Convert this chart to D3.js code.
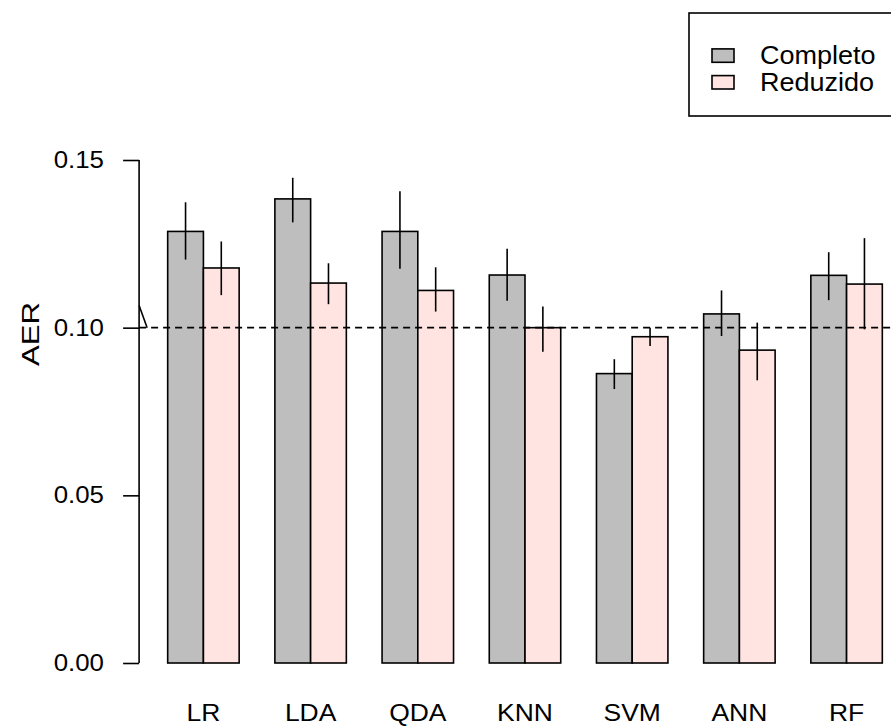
<!DOCTYPE html>
<html>
<head>
<meta charset="utf-8">
<script src="https://cdn.jsdelivr.net/npm/d3@7"></script>
<style>
  html, body { margin: 0; padding: 0; background: #fff; }
  svg { display: block; }
  text { font-family: "Liberation Sans", Arial, Helvetica, sans-serif; fill: #000; }
</style>
</head>
<body>
<div id="chart"></div>
<script>
// Classifiers compared
const categories = ["LR", "LDA", "QDA", "KNN", "SVM", "ANN", "RF"];

// Mean AER and interval limits, full feature set
const completo   = [0.1287, 0.1384, 0.1287, 0.1157, 0.0863, 0.1041, 0.1156];
const completoLo = [0.1203, 0.1314, 0.1176, 0.1080, 0.0817, 0.0975, 0.1082];
const completoHi = [0.1374, 0.1447, 0.1407, 0.1235, 0.0906, 0.1111, 0.1225];

// Mean AER and interval limits, reduced feature set
const reduzido   = [0.1178, 0.1133, 0.1111, 0.1000, 0.0973, 0.0933, 0.1130];
const reduzidoLo = [0.1097, 0.1070, 0.1048, 0.0928, 0.0945, 0.0843, 0.0995];
const reduzidoHi = [0.1257, 0.1192, 0.1180, 0.1063, 0.1000, 0.1015, 0.1267];

const seriesNames = ["Completo", "Reduzido"];
const seriesColors = ["#BEBEBE", "#FFE4E1"];
const yTicks = [0, 0.05, 0.10, 0.15];
const yTickLabels = ["0.00", "0.05", "0.10", "0.15"];
const refLine = 0.10;

const W = 891, H = 727;
const LW = 1.6;
const svg = d3.select("#chart").append("svg")
  .attr("width", W).attr("height", H);

// Bar units: each bar 1 wide, one unit gap before every group
const x = d3.scaleLinear().domain([0.2, 21.8]).range([139.1, 910.9]);
const y = d3.scaleLinear().domain([0, 0.15]).range([663, 160]);

const bars = [];
categories.forEach((c, i) => {
  bars.push({ left: 1 + 3 * i, v: completo[i], lo: completoLo[i], hi: completoHi[i], s: 0 });
  bars.push({ left: 2 + 3 * i, v: reduzido[i], lo: reduzidoLo[i], hi: reduzidoHi[i], s: 1 });
});

// Bars
svg.append("g").selectAll("rect").data(bars).join("rect")
  .attr("x", d => x(d.left))
  .attr("y", d => y(d.v))
  .attr("width", d => x(d.left + 1) - x(d.left))
  .attr("height", d => y(0) - y(d.v))
  .attr("fill", d => seriesColors[d.s])
  .attr("stroke", "#000")
  .attr("stroke-width", LW);

// Reference line
svg.append("line")
  .attr("x1", x(0.2)).attr("x2", x(21.8))
  .attr("y1", y(refLine)).attr("y2", y(refLine))
  .attr("stroke", "#000").attr("stroke-width", LW)
  .attr("stroke-dasharray", "7,5");

// Short stroke touching the reference line at the left edge
svg.append("line")
  .attr("x1", x(0.2)).attr("y1", y(0.1066))
  .attr("x2", x(0.425)).attr("y2", y(refLine))
  .attr("stroke", "#000").attr("stroke-width", LW);

// Error bars
svg.append("g").selectAll("line").data(bars).join("line")
  .attr("x1", d => x(d.left + 0.5)).attr("x2", d => x(d.left + 0.5))
  .attr("y1", d => y(d.lo)).attr("y2", d => y(d.hi))
  .attr("stroke", "#000").attr("stroke-width", LW);

// Y axis (R style: line spanning the tick range, ticks outward)
const yAxis = d3.axisLeft(y).tickValues(yTicks).tickSize(16).tickFormat("");
const yg = svg.append("g").attr("transform", `translate(${x(0.2)},0)`).call(yAxis);
yg.select(".domain").attr("d", `M0,${y(0)}V${y(0.15)}`).attr("stroke-width", LW);
yg.selectAll(".tick line").attr("stroke-width", LW);

// Tick labels, horizontal
yTicks.forEach((t, i) => {
  svg.append("text")
    .attr("transform", `translate(104,${y(t)}) scale(1.1,1)`)
    .attr("text-anchor", "end")
    .attr("dominant-baseline", "central")
    .attr("font-size", 23.5)
    .text(yTickLabels[i]);
});

// Axis title
svg.append("text")
  .attr("transform", `translate(39,334) rotate(-90) scale(1.3,1)`)
  .attr("text-anchor", "middle")
  .attr("font-size", 24)
  .text("AER");

// Category labels
categories.forEach((c, i) => {
  svg.append("text")
    .attr("transform", `translate(${x(2 + 3 * i)},721) scale(1.15,1)`)
    .attr("text-anchor", "middle")
    .attr("font-size", 23)
    .text(c);
});

// Legend
const lg = svg.append("g");
lg.append("rect")
  .attr("x", 689).attr("y", 13).attr("width", 240).attr("height", 103)
  .attr("fill", "#fff").attr("stroke", "#000").attr("stroke-width", LW);
seriesNames.forEach((n, i) => {
  const cy = 55.6 + i * 26.7;
  lg.append("rect")
    .attr("x", 712).attr("y", cy - 6.7).attr("width", 22).attr("height", 13.4)
    .attr("fill", seriesColors[i]).attr("stroke", "#000").attr("stroke-width", LW);
  lg.append("text")
    .attr("transform", `translate(760,${cy}) scale(1.08,1)`)
    .attr("dominant-baseline", "central")
    .attr("font-size", 25)
    .text(n);
});
</script>
</body>
</html>
